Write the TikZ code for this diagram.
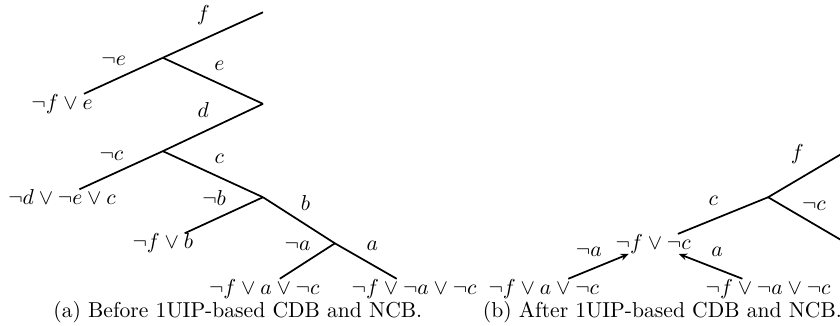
\documentclass[tikz,border=0pt]{standalone}
\usetikzlibrary{arrows.meta}
\tikzset{
  cd clause/.style={inner sep=0pt},
  cd edge/.style={draw=black, thick},
  cd arrow/.style={draw=black, thick, -{Stealth[length=3.8pt,width=3.2pt]}},
  cd lit left/.style={midway, above=1pt, xshift=-4.5pt},
  cd lit right/.style={midway, above=1pt, xshift=3pt},
  cd caption/.style={anchor=base}
}

\begin{document}
\begin{tikzpicture}[x=1cm, y=1cm]
  \useasboundingbox (0,0) rectangle (13.67,5.29);
  \clip (0,0) rectangle (13.67,5.29);
  % (a) before
  \coordinate (a root) at (4.28,5.09);
  \coordinate (a f) at (2.65,4.35);
  \node[cd clause] (a fe) at (1.01,3.60) {$\neg f \vee e$};
  \coordinate (a e) at (4.28,3.60);
  \coordinate (a d) at (2.65,2.83);
  \node[cd clause] (a dec) at (1.01,2.08) {$\neg d \vee \neg e \vee c$};
  \coordinate (a c) at (4.28,2.08);
  \node[cd clause] (a fb) at (2.65,1.33) {$\neg f \vee b$};
  \coordinate (a b) at (5.45,1.33);
  \node[cd clause] (a fac) at (4.30,0.59) {$\neg f \vee a \vee \neg c$};
  \node[cd clause] (a fnac) at (6.74,0.59) {$\neg f \vee \neg a \vee \neg c$};
  \draw[cd edge] (a f) -- node[cd lit left] {$f$} (a root);
  \draw[cd edge] (a f) -- node[cd lit left] {$\neg e$} (a fe);
  \draw[cd edge] (a f) -- node[cd lit right] {$e$} (a e);
  \draw[cd edge] (a e) -- node[cd lit left] {$d$} (a d);
  \draw[cd edge] (a d) -- node[cd lit left] {$\neg c$} (a dec);
  \draw[cd edge] (a d) -- node[cd lit right] {$c$} (a c);
  \draw[cd edge] (a c) -- node[cd lit left] {$\neg b$} (a fb);
  \draw[cd edge] (a c) -- node[cd lit right] {$b$} (a b);
  \draw[cd edge] (a b) -- node[cd lit left] {$\neg a$} (a fac);
  \draw[cd edge] (a b) -- node[cd lit right] {$a$} (a fnac);
  \node[cd caption] (cap a) at (3.87,0.12) {(a) Before 1UIP-based CDB and NCB.};
  % (b) after
  \node[cd clause] (b fac) at (8.85,0.59) {$\neg f \vee a \vee \neg c$};
  \node[cd clause] (b fnac) at (12.50,0.59) {$\neg f \vee \neg a \vee \neg c$};
  \node[cd clause] (b fc) at (10.63,1.32) {$\neg f \vee \neg c$};
  \coordinate (b split) at (12.50,2.08);
  \coordinate (b up) at (13.77,2.83);
  \coordinate (b down) at (13.78,1.33);
  \draw[cd arrow] (b fac) -- node[cd lit left] {$\neg a$} (b fc);
  \draw[cd arrow] (b fnac) -- node[cd lit right] {$a$} (b fc);
  \draw[cd edge] (b fc) -- node[cd lit left] {$c$} (b split);
  \draw[cd edge] (b split) -- node[cd lit left] {$f$} (b up);
  \draw[cd edge] (b split) -- node[cd lit right] {$\neg c$} (b down);
  \node[cd caption] (cap b) at (10.78,0.12) {(b) After 1UIP-based CDB and NCB.};
\end{tikzpicture}
\end{document}
